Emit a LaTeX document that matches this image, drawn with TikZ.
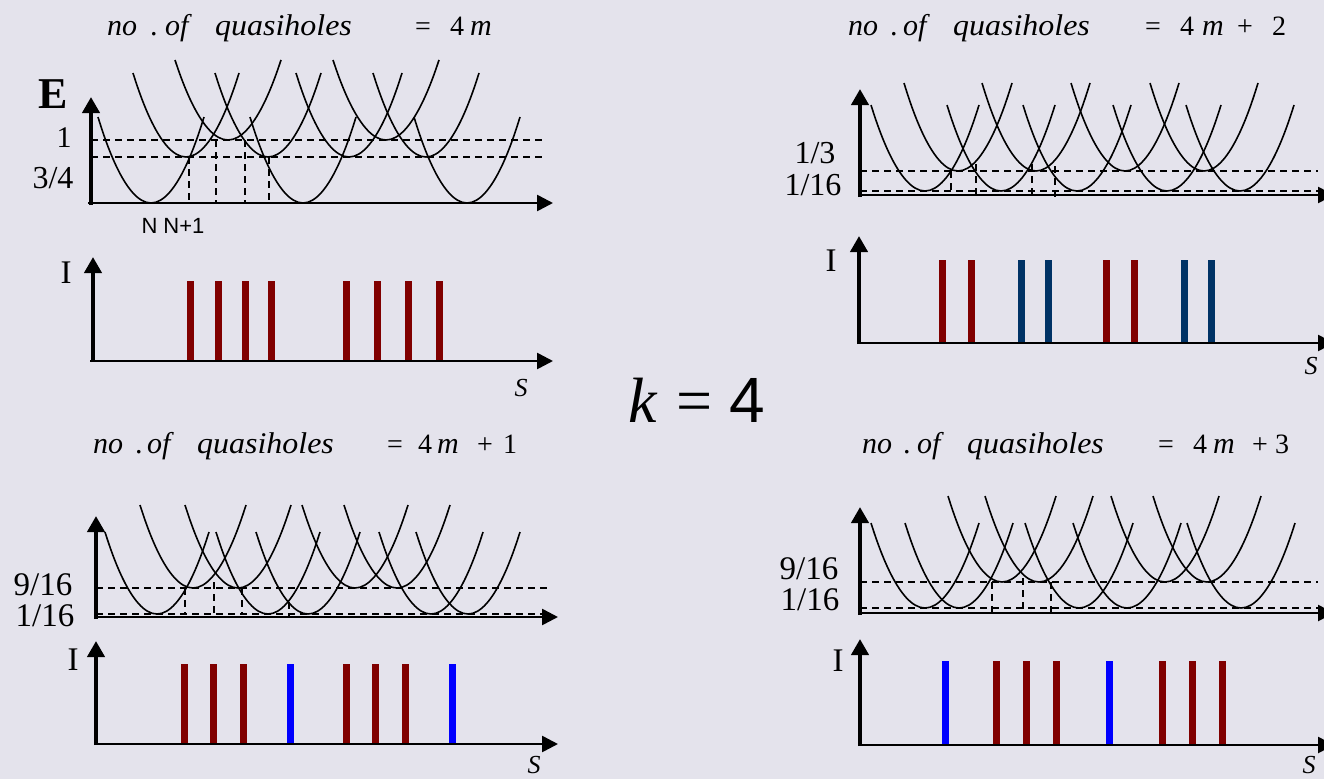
\documentclass[tikz,border=0pt]{standalone}
\usepackage{fontspec}
\setmainfont{Liberation Serif}
\newfontfamily\arialf{Liberation Sans}
\usetikzlibrary{arrows.meta}
\definecolor{bgc}{RGB}{228,227,236}
\definecolor{dred}{RGB}{128,0,0}
\definecolor{dblue}{RGB}{0,51,102}
\definecolor{bblue}{RGB}{0,0,255}
\newcommand\fs[1]{\fontsize{#1}{#1}\selectfont}
\newcommand\pb[4]{\draw[curve] ({#1-#3},#4) parabola bend (#1,#2) ({#1+#3},#4);}
\newcommand\ibar[4]{\fill[#1] ({#2-3.5},#3) rectangle ({#2+3.5},#4);}
\newcommand\qh{\scalebox{1.065}[1]{\itshape quasiholes}}
\begin{document}
\begin{tikzpicture}[x=1pt,y=-1pt,
  every node/.style={inner sep=0pt},
  curve/.style={line width=1.6pt},
  mydash/.style={line width=1.3pt, dash pattern=on 7pt off 5pt},
  axish/.style={line width=2.6pt, -{Triangle[length=16pt,width=16pt]}},
  axisv/.style={line width=4.5pt, -{Triangle[length=16pt,width=17pt]}},
  ttl/.style={anchor=base west, font=\fs{30}},
  ttn/.style={anchor=base west, font=\fs{28}},
  lbl/.style={font=\fs{33}}]
\fill[bgc] (0,0) rectangle (1324,779);
\useasboundingbox (0,0) rectangle (1324,779);
\clip (0,0) rectangle (1324,779);

% ---------- titles ----------
\node[ttl] (t1a) at (107,35) {\itshape no};
\node[ttl] (t1b) at (150,35) {.};
\node[ttl] (t1c) at (165,35) {\itshape of};
\node[ttl] (t1d) at (215,35) {\qh};
\node[ttn] (t1e) at (415,35) {=};
\node[ttn] (t1f) at (450,35) {4};
\node[ttl] (t1g) at (470,35) {\itshape m};

\node[ttl] (t2a) at (848,35) {\itshape no};
\node[ttl] (t2b) at (890,35) {.};
\node[ttl] (t2c) at (903,35) {\itshape of};
\node[ttl] (t2d) at (953,35) {\qh};
\node[ttn] (t2e) at (1145,35) {=};
\node[ttn] (t2f) at (1180,35) {4};
\node[ttl] (t2g) at (1202,35) {\itshape m};
\node[ttn] (t2h) at (1237,35) {+};
\node[ttn] (t2i) at (1272,35) {2};

\node[ttl] (t3a) at (93,453) {\itshape no};
\node[ttl] (t3b) at (135,453) {.};
\node[ttl] (t3c) at (147,453) {\itshape of};
\node[ttl] (t3d) at (197,453) {\qh};
\node[ttn] (t3e) at (387,453) {=};
\node[ttn] (t3f) at (418,453) {4};
\node[ttl] (t3g) at (437,453) {\itshape m};
\node[ttn] (t3h) at (477,453) {+};
\node[ttn] (t3i) at (503,453) {1};

\node[ttl] (t4a) at (862,453) {\itshape no};
\node[ttl] (t4b) at (903,453) {.};
\node[ttl] (t4c) at (917,453) {\itshape of};
\node[ttl] (t4d) at (967,453) {\qh};
\node[ttn] (t4e) at (1158,453) {=};
\node[ttn] (t4f) at (1193,453) {4};
\node[ttl] (t4g) at (1213,453) {\itshape m};
\node[ttn] (t4h) at (1252,453) {+};
\node[ttn] (t4i) at (1275,453) {3};

% ---------- k = 4 ----------
\node[font=\fs{64}] (kk) at (697,400) {\itshape k\hspace{19pt}\upshape=\hspace{17pt}{\arialf 4}};

% ================= TOP LEFT =================
\pb{151}{203}{53}{117}
\pb{303}{203}{53}{117}
\pb{467}{203}{53}{117}
\pb{186}{157}{53}{73}
\pb{268}{157}{53}{73}
\pb{349}{157}{53}{73}
\pb{426}{157}{53}{73}
\pb{228}{140}{53}{60}
\pb{386}{140}{53}{60}
\draw[mydash] (91,140) -- (545,140);
\draw[mydash] (91,157) -- (545,157);
\draw[mydash] (189,157) -- (189,203);
\draw[mydash] (216,140) -- (216,203);
\draw[mydash] (245,140) -- (245,203);
\draw[mydash] (269,157) -- (269,203);
\draw[axish] (88,203) -- (553,203);
\draw[axisv] (91,205) -- (91,97);
\node[font=\fs{44}\bfseries] (tlE) at (53,94) {E};
\node[lbl, font=\fs{30}] (tl1) at (64,138) {1};
\node[lbl, font=\fs{32}] (tl34) at (53,178) {3/4};
\node[font=\fs{22}\arialf] (tlN) at (173,226) {N N+1};

\ibar{dred}{190}{281}{361}
\ibar{dred}{218}{281}{361}
\ibar{dred}{245}{281}{361}
\ibar{dred}{271}{281}{361}
\ibar{dred}{346}{281}{361}
\ibar{dred}{377}{281}{361}
\ibar{dred}{408}{281}{361}
\ibar{dred}{439}{281}{361}
\draw[axish] (90,361) -- (553,361);
\draw[axisv] (93,362) -- (93,257);
\node[lbl] (tlI) at (66,273) {I};
\node[font=\fs{26}\itshape] (tlS) at (521,388) {S};

% ================= TOP RIGHT =================
\pb{925}{191}{54}{105}
\pb{1001}{191}{54}{105}
\pb{1077}{191}{54}{105}
\pb{1167}{191}{54}{105}
\pb{1240}{191}{54}{105}
\pb{958}{171}{54}{83}
\pb{1036}{171}{54}{83}
\pb{1125}{171}{54}{83}
\pb{1204}{171}{54}{83}
\draw[mydash] (860,171) -- (1318,171);
\draw[mydash] (860,191) -- (1318,191);
\draw[mydash] (951,171) -- (951,195);
\draw[mydash] (976,164) -- (976,195);
\draw[mydash] (1032,164) -- (1032,195);
\draw[mydash] (1055,166) -- (1055,197);
\draw[axish] (858,195) -- (1334,195);
\draw[axisv] (860,197) -- (860,89);
\node[lbl, font=\fs{32}] (tr13) at (815,153) {1/3};
\node[lbl, font=\fs{32}] (tr116) at (813,185) {1/16};

\ibar{dred}{942}{260}{343}
\ibar{dred}{971}{260}{343}
\ibar{dblue}{1021}{260}{343}
\ibar{dblue}{1048}{260}{343}
\ibar{dred}{1106}{260}{343}
\ibar{dred}{1134}{260}{343}
\ibar{dblue}{1184}{260}{343}
\ibar{dblue}{1211}{260}{343}
\draw[axish] (857,343) -- (1334,343);
\draw[axisv] (859,344) -- (859,236);
\node[lbl] (trI) at (831,261) {I};
\node[font=\fs{26}\itshape] (trS) at (1311,366) {S};

% ================= BOTTOM LEFT =================
\pb{157}{614}{52}{532}
\pb{268}{614}{52}{532}
\pb{308}{614}{52}{532}
\pb{431}{614}{52}{532}
\pb{468}{614}{52}{532}
\pb{193}{588}{53}{505}
\pb{238}{588}{53}{505}
\pb{355}{588}{53}{505}
\pb{397}{588}{53}{505}
\draw[mydash] (96,588) -- (547,588);
\draw[mydash] (96,614) -- (547,614);
\draw[mydash] (185,588) -- (185,614);
\draw[mydash] (214,582) -- (214,614);
\draw[mydash] (242,588) -- (242,614);
\draw[mydash] (289,602) -- (289,617);
\draw[axish] (94,617) -- (558,617);
\draw[axisv] (96,619) -- (96,516);
\node[lbl, font=\fs{33}] (bl916) at (43,585) {9/16};
\node[lbl, font=\fs{33}] (bl116) at (45,616) {1/16};

\ibar{dred}{184}{664}{744}
\ibar{dred}{213}{664}{744}
\ibar{dred}{243}{664}{744}
\ibar{bblue}{290}{664}{744}
\ibar{dred}{346}{664}{744}
\ibar{dred}{375}{664}{744}
\ibar{dred}{405}{664}{744}
\ibar{bblue}{452}{664}{744}
\draw[axish] (94,744) -- (558,744);
\draw[axisv] (96,745) -- (96,641);
\node[lbl] (blI) at (73,660) {I};
\node[font=\fs{26}\itshape] (blS) at (534,765) {S};

% ================= BOTTOM RIGHT =================
\pb{925}{608}{54}{523}
\pb{959}{608}{54}{523}
\pb{1079}{608}{54}{523}
\pb{1127}{608}{54}{523}
\pb{1241}{608}{54}{523}
\pb{1002}{582}{54}{496}
\pb{1039}{582}{54}{496}
\pb{1165}{582}{54}{496}
\pb{1207}{582}{54}{496}
\draw[mydash] (860,582) -- (1318,582);
\draw[mydash] (860,608) -- (1318,608);
\draw[mydash] (992,582) -- (992,613);
\draw[mydash] (1023,578) -- (1023,613);
\draw[mydash] (1051,582) -- (1051,613);
\draw[axish] (858,613) -- (1334,613);
\draw[axisv] (860,615) -- (860,507);
\node[lbl, font=\fs{33}] (br916) at (809,569) {9/16};
\node[lbl, font=\fs{33}] (br116) at (810,600) {1/16};

\ibar{bblue}{945}{661}{745}
\ibar{dred}{996}{661}{745}
\ibar{dred}{1026}{661}{745}
\ibar{dred}{1056}{661}{745}
\ibar{bblue}{1109}{661}{745}
\ibar{dred}{1162}{661}{745}
\ibar{dred}{1192}{661}{745}
\ibar{dred}{1222}{661}{745}
\draw[axish] (858,745) -- (1334,745);
\draw[axisv] (860,746) -- (860,639);
\node[lbl] (brI) at (838,661) {I};
\node[font=\fs{26}\itshape] (brS) at (1309,765) {S};
\end{tikzpicture}
\end{document}
